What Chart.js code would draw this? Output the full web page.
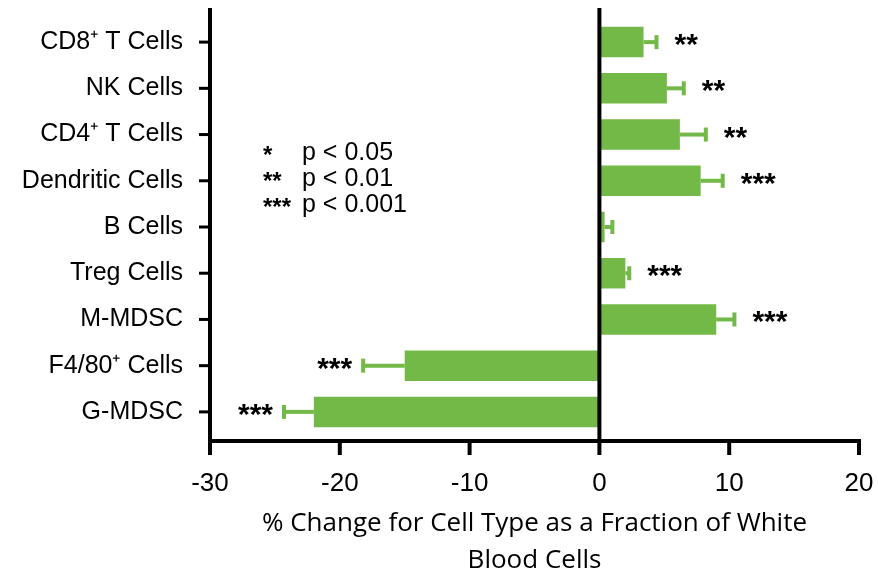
<!DOCTYPE html>
<html>
<head>
<meta charset="utf-8">
<script src="https://cdn.jsdelivr.net/npm/chart.js@4.4.0/dist/chart.umd.min.js"></script>
<style>
  html, body { margin: 0; padding: 0; background: #fff; }
  #wrap { width: 878px; height: 579px; }
</style>
</head>
<body>
<div id="wrap"><canvas id="cellChart"></canvas></div>
<script>
const categories = ["CD8\u207A T Cells", "NK Cells", "CD4\u207A T Cells", "Dendritic Cells", "B Cells", "Treg Cells", "M-MDSC", "F4/80\u207A Cells", "G-MDSC"];
const changeValues = [3.4, 5.2, 6.2, 7.8, 0.4, 2.0, 9.0, -15.0, -22.0];
const errorValues = [1.0, 1.3, 2.0, 1.7, 0.6, 0.3, 1.4, 3.2, 2.3];
const significance = ["**", "**", "**", "***", "", "***", "***", "***", "***"];
const xTicks = [-30, -20, -10, 0, 10, 20];
const legendStars = ["*", "**", "***"];
const legendLabels = ["p < 0.05", "p < 0.01", "p < 0.001"];

const green = "rgb(114, 185, 71)";

const axesPlugin = {
    id: "axesPlugin",
    afterDatasetsDraw(chart) {
        const ctx = chart.ctx;
        const area = chart.chartArea;
        const x = chart.scales.x;
        const y = chart.scales.y;
        const top = area.top - 11;
        const base = area.bottom + 6;

        ctx.save();
        // error bars
        ctx.strokeStyle = green;
        ctx.lineCap = "butt";
        changeValues.forEach((v, i) => {
            const cy = y.getPixelForValue(i);
            const end = v >= 0 ? v + errorValues[i] : v - errorValues[i];
            const x0 = x.getPixelForValue(v);
            const x1 = x.getPixelForValue(end);
            ctx.lineWidth = 4;
            ctx.beginPath();
            ctx.moveTo(x0, cy);
            ctx.lineTo(x1, cy);
            ctx.stroke();
            ctx.beginPath();
            ctx.moveTo(x1, cy - 7);
            ctx.lineTo(x1, cy + 7);
            ctx.stroke();

            // significance stars
            if (significance[i]) {
                ctx.fillStyle = "#000";
                ctx.font = "bold 30px 'Liberation Sans', Arial, sans-serif";
                ctx.textBaseline = "alphabetic";
                if (v >= 0) {
                    ctx.textAlign = "left";
                    ctx.fillText(significance[i], x1 + 18, cy + 12);
                } else {
                    ctx.textAlign = "right";
                    ctx.fillText(significance[i], x1 - 11, cy + 12);
                }
            }
        });

        // axes
        ctx.strokeStyle = "#000";
        ctx.lineWidth = 4;
        ctx.beginPath();
        ctx.moveTo(area.left, top);
        ctx.lineTo(area.left, base + 2);
        ctx.moveTo(area.left - 2, base);
        ctx.lineTo(area.right + 2, base);
        const zx = x.getPixelForValue(0);
        ctx.moveTo(zx, top);
        ctx.lineTo(zx, base);
        ctx.stroke();

        // x ticks
        xTicks.forEach(t => {
            const tx = x.getPixelForValue(t);
            ctx.beginPath();
            ctx.moveTo(tx, base);
            ctx.lineTo(tx, base + 14);
            ctx.stroke();
        });

        // y ticks
        ctx.lineWidth = 3;
        categories.forEach((c, i) => {
            const cy = y.getPixelForValue(i);
            ctx.beginPath();
            ctx.moveTo(area.left - 11, cy);
            ctx.lineTo(area.left, cy);
            ctx.stroke();
        });

        // significance legend
        ctx.fillStyle = "#000";
        ctx.textAlign = "left";
        legendStars.forEach((s, i) => {
            const ly = 153 + i * 26;
            ctx.font = "bold 24px 'Liberation Sans', Arial, sans-serif";
            ctx.textBaseline = "alphabetic";
            ctx.fillText(s, 263, ly + 10);
            ctx.font = "25px 'Liberation Sans', Arial, sans-serif";
            ctx.textBaseline = "middle";
            ctx.fillText(legendLabels[i], 302, ly);
        });
        ctx.restore();
    }
};

const data = {
    labels: categories,
    datasets: [
        {
            data: changeValues,
            backgroundColor: green,
            borderWidth: 0,
            categoryPercentage: 1.0,
            barPercentage: 0.66,
        },
    ],
};

const config = {
    type: "bar",
    data: data,
    options: {
        indexAxis: "y",
        responsive: true,
        maintainAspectRatio: false,
        animation: false,
        layout: { padding: { top: 19, right: 19, left: 0, bottom: 0 } },
        plugins: {
            legend: { display: false },
            tooltip: { enabled: false },
        },
        scales: {
            x: {
                min: -30,
                max: 20,
                afterBuildTicks: s => { s.ticks = xTicks.map(v => ({ value: v })); },
                afterFit: s => {
                    s.height = 144;
                    s.paddingLeft = 0;
                    s.paddingRight = 0;
                },
                grid: { display: false, drawTicks: false },
                border: { display: false },
                ticks: {
                    padding: 33,
                    color: "#000",
                    font: { family: "'Liberation Sans', Arial, sans-serif", size: 26 },
                },
                title: {
                    display: true,
                    text: ["% Change for Cell Type as a Fraction of White", "Blood Cells"],
                    color: "#000",
                    font: { family: "'Open Sans', sans-serif", size: 26, lineHeight: 1.42 },
                    padding: { top: 0, bottom: 0 },
                },
            },
            y: {
                afterFit: s => {
                    s.width = 210;
                    s.paddingTop = 0;
                    s.paddingBottom = 0;
                },
                grid: { display: false, drawTicks: false },
                border: { display: false },
                ticks: {
                    padding: 27,
                    color: "#000",
                    font: { family: "'Liberation Sans', Arial, sans-serif", size: 25 },
                },
            },
        },
    },
    plugins: [axesPlugin],
};

const cellChart = new Chart(document.getElementById("cellChart"), config);
</script>
</body>
</html>
